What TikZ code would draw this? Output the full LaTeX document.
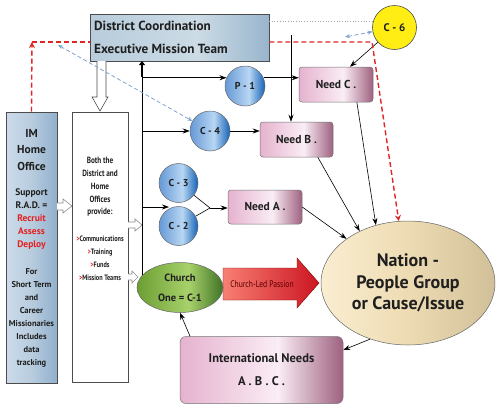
\documentclass[tikz,border=0pt]{standalone}
\usepackage{fontspec}
\setmainfont{PT Sans}
\newfontfamily\condfont[FakeStretch=0.8]{PT Sans}
\usetikzlibrary{arrows.meta,shapes.geometric,calc}
\definecolor{txt}{rgb}{0.12,0.12,0.12}
\definecolor{redtxt}{rgb}{0.9,0.12,0.12}
\definecolor{reddash}{rgb}{0.88,0.15,0.15}
\definecolor{bluedash}{rgb}{0.5,0.64,0.8}
\definecolor{c6yellow}{rgb}{1,0.93,0.08}
\pgfdeclarehorizontalshading{distsh}{100bp}{rgb(0bp)=(0.72,0.8,0.86);rgb(25bp)=(0.72,0.8,0.86);rgb(55bp)=(0.8,0.86,0.9);rgb(75bp)=(0.6,0.71,0.8);rgb(100bp)=(0.6,0.71,0.8)}
\pgfdeclarehorizontalshading{imsh}{100bp}{rgb(0bp)=(0.8,0.86,0.92);rgb(25bp)=(0.8,0.86,0.92);rgb(50bp)=(0.72,0.8,0.87);rgb(75bp)=(0.57,0.69,0.8);rgb(100bp)=(0.57,0.69,0.8)}
\pgfdeclarehorizontalshading{needsh}{100bp}{rgb(0bp)=(0.9,0.7,0.81);rgb(25bp)=(0.9,0.7,0.81);rgb(55bp)=(0.98,0.93,0.96);rgb(75bp)=(0.62,0.38,0.5);rgb(100bp)=(0.62,0.38,0.5)}
\pgfdeclarehorizontalshading{bluesh}{100bp}{rgb(0bp)=(0.4,0.6,0.84);rgb(25bp)=(0.4,0.6,0.84);rgb(55bp)=(0.72,0.84,0.95);rgb(75bp)=(0.08,0.38,0.72);rgb(100bp)=(0.08,0.38,0.72)}
\pgfdeclarehorizontalshading{greensh}{100bp}{rgb(0bp)=(0.42,0.62,0.2);rgb(25bp)=(0.42,0.62,0.2);rgb(55bp)=(0.66,0.82,0.42);rgb(75bp)=(0.25,0.45,0.15);rgb(100bp)=(0.25,0.45,0.15)}
\pgfdeclarehorizontalshading{tansh}{100bp}{rgb(0bp)=(0.98,0.93,0.82);rgb(25bp)=(0.98,0.93,0.82);rgb(50bp)=(0.93,0.86,0.7);rgb(75bp)=(0.82,0.75,0.6);rgb(100bp)=(0.82,0.75,0.6)}
\pgfdeclarehorizontalshading{redsh}{100bp}{rgb(0bp)=(0.97,0.5,0.45);rgb(25bp)=(0.97,0.5,0.45);rgb(75bp)=(0.8,0.08,0.13);rgb(100bp)=(0.8,0.08,0.13)}
\begin{document}
\begin{tikzpicture}[x=1pt,y=-1pt,
  every node/.style={inner sep=0pt,text=txt},
  box/.style={rectangle,draw=black!70,line width=0.6pt},
  needbox/.style={rectangle,rounded corners=3pt,draw=black!55,line width=0.5pt,shading=needsh,
     font=\bfseries\fontsize{11.5}{13}\selectfont},
  bcirc/.style={circle,draw=black!60,line width=0.5pt,shading=bluesh,minimum size=40pt,
     font=\bfseries\fontsize{10}{11}\selectfont},
  arr/.style={-{Stealth[length=7pt,width=5pt]},line width=0.6pt,black},
  rdash/.style={draw=reddash,line width=1.4pt,dash pattern=on 5pt off 3pt},
  bdash/.style={draw=bluedash,line width=0.8pt,dash pattern=on 4pt off 2.5pt,
     {Stealth[length=5pt,width=4pt]}-{Stealth[length=5pt,width=4pt]}},
  hollow/.style={draw=black!45,fill=white,line width=0.6pt,line join=miter}
]
\useasboundingbox (0,0) rectangle (500,410);

% Church-Led Passion arrow (under the ellipses)
\path[shading=redsh,draw=red!50!black,line width=0.4pt]
  (223,268) -- (297,268) -- (297,258) -- (319,283) -- (297,308) -- (297,300) -- (223,300) -- cycle;
\node[font=\condfont\fontsize{9.5}{10}\selectfont,text={rgb,1:red,0.35;green,0;blue,0}] (clp) at (262,284) {Church-Led Passion};

% boxes
\node[box,shading=distsh,minimum width=179pt,minimum height=47pt] (dist) at (179.5,37.5) {};
\node[anchor=west,font=\bfseries\fontsize{13.2}{14}\selectfont] (dt1) at (94,26) {District Coordination};
\node[anchor=west,font=\bfseries\fontsize{13.2}{14}\selectfont] (dt2) at (94,49) {Executive Mission Team};

\node[box,shading=imsh,minimum width=51pt,minimum height=271pt] (im) at (31.5,247.5) {};
\node[align=center,font=\bfseries\fontsize{11.5}{16.5}\selectfont] (ima) at (31.5,150) {IM\\Home\\Office};
\node[align=center,font=\bfseries\fontsize{9.5}{13}\selectfont] (imb) at (31.5,219.5) {Support\\R.A.D. =\\\textcolor{redtxt}{Recruit}\\\textcolor{redtxt}{Assess}\\\textcolor{redtxt}{Deploy}};
\node[align=center,font=\bfseries\fontsize{8.5}{13}\selectfont] (imc) at (31.5,318) {For\\Short Term\\and\\Career\\Missionaries\\Includes\\data\\tracking};

\node[box,fill=white,minimum width=56pt,minimum height=270pt] (both) at (100,247) {};
\node[align=center,font=\condfont\bfseries\fontsize{9}{12.75}\selectfont] (bt1) at (100,187) {Both the\\District and\\Home\\Offices\\provide:};
\node[align=center,font=\condfont\bfseries\fontsize{7.8}{13}\selectfont] (bt2) at (100,258) {\textcolor{redtxt}{>}Communications\\\textcolor{redtxt}{>}Training\\\textcolor{redtxt}{>}Funds\\\textcolor{redtxt}{>}Mission Teams};

\node[needbox,minimum width=74pt,minimum height=35pt] (needc) at (336,84.5) {Need C .};
\node[needbox,minimum width=73pt,minimum height=35pt] (needb) at (296.5,139.5) {Need B .};
\node[needbox,minimum width=74pt,minimum height=34pt] (needa) at (265,207) {Need A .};
\node[needbox,rounded corners=6pt,minimum width=163pt,minimum height=67pt,align=center,
  font=\bfseries\fontsize{12.5}{23}\selectfont] (intl) at (261.5,370) {International Needs\\A . B . C .};

\node[bcirc] (p1) at (245,86) {P - 1};
\node[bcirc] (c4) at (210,131) {C - 4};
\node[bcirc,minimum size=39pt] (c3) at (178.5,183) {C - 3};
\node[bcirc,minimum size=39pt] (c2) at (178.5,226) {C - 2};
\node[circle,draw=black!70,line width=0.6pt,fill=c6yellow,minimum size=44pt,
  font=\bfseries\fontsize{11}{12}\selectfont] (c6) at (394.5,27.5) {C - 6};

\node[ellipse,draw=black!60,line width=0.5pt,shading=greensh,minimum width=86pt,minimum height=50pt,
  align=center,font=\bfseries\fontsize{10.5}{20}\selectfont] (church) at (180,287.5) {Church\\One = C-1};
\node[ellipse,draw=black!60,line width=0.5pt,shading=tansh,minimum width=174pt,minimum height=124pt,
  align=center,font=\bfseries\fontsize{18}{21.5}\selectfont] (nation) at (408,283) {Nation -\\People Group\\or Cause/Issue};

% hollow arrows
\draw[hollow,draw=black!70] (97,61) -- (97,97) -- (92,97) -- (100,111) -- (108,97) -- (106,97) -- (106,61);
\draw[hollow] (57,203) -- (63,203) -- (63,199) -- (72,206) -- (63,213) -- (63,210) -- (57,210);
\draw[hollow] (128,222) -- (135,222) -- (135,219) -- (142,225) -- (135,231) -- (135,228) -- (128,228);
\draw[hollow] (128,274) -- (132,274) -- (132,271) -- (138,277) -- (132,283) -- (132,280) -- (128,280);

% coordinates
\coordinate (trtop) at (142,61);
\coordinate (trbot) at (142,275);
\coordinate (trarr) at (142,77);
\coordinate (c2in) at (169,207);
\coordinate (jn) at (210,208);
\coordinate (vtop) at (291,35);
\coordinate (rdl) at (32,42);
\coordinate (rdr) at (372,42);
\coordinate (gdot) at (269,21);
\coordinate (bd1) at (58,45);
\coordinate (bd2) at (345,37);
\coordinate (x350) at (350,0);
\coordinate (x190) at (190,0);
\coordinate (y350) at (0,350);

% trunk and branches
\draw[line width=0.6pt] (trbot) -- (trarr);
\draw[line width=2.6pt,-{Triangle[length=4pt,width=6pt]}] (trarr) -- (trtop);
\draw[arr] (trtop |- p1.156) -- (p1.156);
\draw[arr] (trtop |- c4.west) -- (c4.west);
\draw[arr] (trtop |- c2in) -- (c2in);

\draw[arr] (p1.24) -- (p1.24 -| needc.west);
\draw[arr] (c4.east) -- (c4.east -| needb.west);
\draw[line width=0.6pt] (c3) -- (jn);
\draw[line width=0.6pt] (c2) -- (jn);
\draw[arr] (jn) -- (jn -| needa.west);
\draw[arr] (vtop) -- (vtop |- needb.north);
\draw[arr] (c6) -- (needc.north -| x350);

\draw[arr] (needa.east) -- (nation);
\draw[arr] ($(needb.south west)!0.79!(needb.south east)$) -- (nation.133);
\draw[arr] ($(needc.south west)!0.78!(needc.south east)$) -- (nation.119);
\draw[arr] (nation.236) -- (intl.east |- y350);
\draw[arr] (intl.north -| x190) -- (church.south);

% dashed connectors
\draw[rdash,-{Stealth[length=6pt,width=6pt]}] (im.north) -- (rdl);
\draw[rdash] (rdl) -- (dist.west |- rdl);
\draw[rdash,-{Stealth[length=6pt,width=6pt]}] (dist.east |- rdr) -- (rdr) -- (nation);
\draw[draw=black!35,line width=0.7pt,dotted] (gdot) -- (c6.west |- gdot);
\draw[bdash] (bd1) -- (c4);
\draw[bdash] (bd2) -- (c6);
\end{tikzpicture}
\end{document}
